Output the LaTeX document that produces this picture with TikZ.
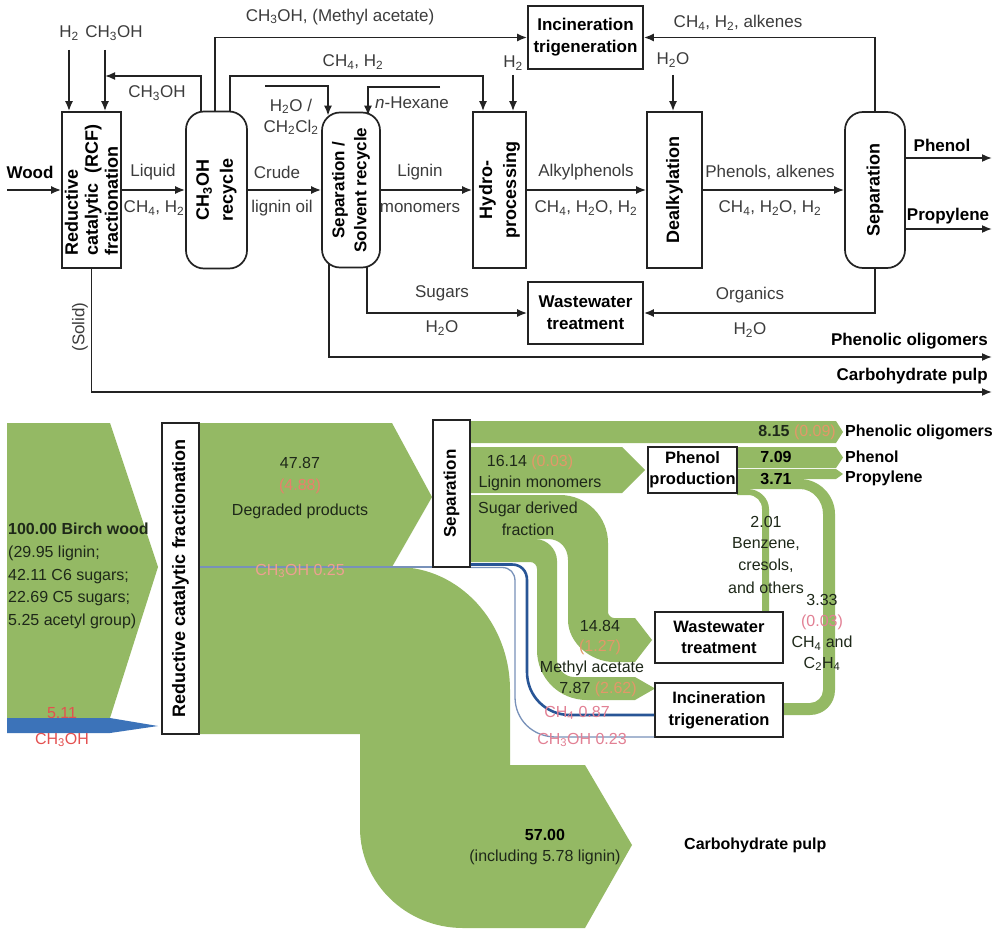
\documentclass[tikz,border=0pt]{standalone}
\usepackage{fontspec}
\setmainfont{Liberation Sans}
\usetikzlibrary{arrows.meta}
\definecolor{gr}{RGB}{148,185,100}
\definecolor{bl}{RGB}{60,115,185}
\definecolor{bldk}{RGB}{40,85,150}
\definecolor{bllt}{RGB}{120,145,185}
\definecolor{sal}{RGB}{232,128,108}
\definecolor{org}{RGB}{226,152,105}
\definecolor{pnk}{RGB}{226,128,148}
\definecolor{rd}{RGB}{228,80,80}
\definecolor{dk}{RGB}{30,40,25}
\definecolor{ln}{RGB}{35,35,35}
\definecolor{tx}{RGB}{60,60,60}
\newcommand{\sbs}[1]{\textsubscript{#1}}
\begin{document}
\begin{tikzpicture}[x=1pt,y=-1pt,
  box/.style={draw=ln, line width=1.7pt, fill=white, inner sep=0pt},
  cyl/.style={box, rounded corners=18pt},
  arr/.style={draw=ln, line width=1.7pt, -{Latex[length=10pt,width=8pt]}},
  lb/.style={font=\fontsize{17}{20}\selectfont, text=tx, inner sep=0pt},
  bb/.style={font=\fontsize{17}{22}\selectfont\bfseries, text=black, inner sep=0pt, align=center},
  sl/.style={font=\fontsize{16}{21}\selectfont, text=dk, inner sep=0pt, align=center},
  sb/.style={font=\fontsize{16}{21}\selectfont\bfseries, text=black, inner sep=0pt, align=center},
]
\useasboundingbox (0,0) rectangle (1000,936);
\fill[white] (0,0) rectangle (1000,936);

% ================= TOP PROCESS DIAGRAM =================
\node[box, minimum width=59pt, minimum height=156pt] (rcf) at (91.5,190) {};
\node[bb, rotate=90, align=left, font=\fontsize{18}{20}\selectfont\bfseries] (rcft) at (rcf) {Reductive\\catalytic\ \ (RCF)\\fractionation};
\node[cyl, minimum width=61pt, minimum height=157pt] (rec) at (216.5,190) {};
\node[bb, rotate=90, font=\fontsize{18}{24}\selectfont\bfseries] (rect) at (rec) {CH\sbs{3}OH\\recycle};
\node[cyl, minimum width=58pt, minimum height=155pt] (sep1) at (351,190) {};
\node[bb, rotate=90] (sep1t) at (sep1) {Separation /\\Solvent recycle};
\node[box, minimum width=53pt, minimum height=156pt] (hyd) at (499.5,190) {};
\node[bb, rotate=90, font=\fontsize{18}{24}\selectfont\bfseries] (hydt) at (hyd) {Hydro-\\processing};
\node[box, minimum width=55pt, minimum height=156pt] (dea) at (674.5,190) {};
\node[bb, rotate=90, font=\fontsize{18}{22}\selectfont\bfseries] (deat) at (dea) {Dealkylation};
\node[cyl, minimum width=60pt, minimum height=156pt] (sep2) at (875,190) {};
\node[bb, rotate=90, font=\fontsize{18}{22}\selectfont\bfseries] (sep2t) at (sep2) {Separation};
\node[box, minimum width=115pt, minimum height=63pt] (inc1) at (585.5,37.5) {};
\node[bb] (inc1t) at (inc1) {Incineration\\trigeneration};
\node[box, minimum width=115pt, minimum height=62pt] (ww1) at (585.5,313) {};
\node[bb] (ww1t) at (ww1) {Wastewater\\treatment};

% wood in
\coordinate (woodin) at (7,190);
\draw[arr] (woodin) -- (rcf.west);
\node[bb] (woodt) at (30,172) {Wood};
% H2 and CH3OH feeds
\coordinate (h2a) at (69,50);
\coordinate (mea) at (105,50);
\draw[arr] (h2a) -- (h2a |- rcf.north);
\draw[arr] (mea) -- (mea |- rcf.north);
\node[lb] (h2at) at (69,33) {H\sbs{2}};
\node[lb] (meat) at (114,33) {CH\sbs{3}OH};
% methanol recycle
\coordinate (r1) at (201,112);
\coordinate (r1t) at (201,76);
\draw[arr] (r1) -- (r1t) -- (r1t -| mea);
\node[lb] (r1l) at (157,93) {CH\sbs{3}OH};
% to incineration
\coordinate (r2) at (215,112);
\draw[arr] (r2) |- (inc1.west);
\node[lb] (r2l) at (340,17) {CH\sbs{3}OH, (Methyl acetate)};
% CH4,H2 to hydroprocessing
\coordinate (r3) at (230,112);
\coordinate (h1) at (483,76);
\draw[arr] (r3) |- (h1) -- (h1 |- hyd.north);
\node[lb] (r3l) at (353,62) {CH\sbs{4}, H\sbs{2}};
% main line
\draw[arr] (rcf.east) -- (rec.west);
\node[lb] (lq1) at (153,172) {Liquid};
\node[lb] (lq2) at (154,208) {CH\sbs{4}, H\sbs{2}};
\draw[arr] (rec.east) -- (sep1.west);
\node[lb] (cr1) at (277,172) {Crude};
\node[lb] (cr2) at (282,208) {lignin oil};
\draw[arr] (sep1.east) -- (hyd.west);
\node[lb] (lm1) at (420,172) {Lignin};
\node[lb] (lm2) at (420,208) {monomers};
\draw[arr] (hyd.east) -- (dea.west);
\node[lb] (ak1) at (586,172) {Alkylphenols};
\node[lb] (ak2) at (586,208) {CH\sbs{4}, H\sbs{2}O, H\sbs{2}};
\draw[arr] (dea.east) -- (sep2.west);
\node[lb] (pa1) at (770,172) {Phenols, alkenes};
\node[lb] (pa2) at (770,208) {CH\sbs{4}, H\sbs{2}O, H\sbs{2}};
% solvent feeds
\coordinate (wc) at (265,86);
\coordinate (wc1) at (328,86);
\draw[arr] (wc) -- (wc1) -- ([yshift=-4pt]wc1 |- sep1.north);
\node[lb, align=center, font=\fontsize{17}{21}\selectfont] (wcl) at (291,117) {H\sbs{2}O /\\CH\sbs{2}Cl\sbs{2}};
\coordinate (hx) at (440,87);
\coordinate (hx1) at (368,87);
\draw[arr] (hx) -- (hx1) -- ([yshift=-4pt]hx1 |- sep1.north);
\node[lb] (hxl) at (412,103) {\textit{n}-Hexane};
% H2 to hydro, H2O to dealkylation
\coordinate (hh) at (513,75);
\draw[arr] (hh) -- (hh |- hyd.north);
\node[lb] (hhl) at (513,63) {H\sbs{2}};
\coordinate (dw) at (673,75);
\draw[arr] (dw) -- (dw |- dea.north);
\node[lb] (dwl) at (673,60) {H\sbs{2}O};
% separation outputs
\draw[arr] (sep2.north) |- (inc1.east);
\node[lb] (ral) at (738,23) {CH\sbs{4}, H\sbs{2}, alkenes};
\coordinate (phe) at (992,158);
\draw[arr] (phe -| sep2.east) -- (phe);
\node[bb] (phel) at (942,145) {Phenol};
\coordinate (pro) at (992,229);
\draw[arr] (pro -| sep2.east) -- (pro);
\node[bb] (prol) at (948,216) {Propylene};
\draw[arr] (sep2.south) |- (ww1.east);
\node[lb] (or1) at (750,295) {Organics};
\node[lb] (or2) at (750,330) {H\sbs{2}O};
\coordinate (sg) at (367,267);
\draw[arr] (sg) |- (ww1.west);
\node[lb] (sg1) at (442,293) {Sugars};
\node[lb] (sg2) at (442,328) {H\sbs{2}O};
\coordinate (ol) at (329,264);
\coordinate (olend) at (992,357);
\draw[arr] (ol) |- (olend);
\node[bb, anchor=east] (oll) at (988,341) {Phenolic oligomers};
\coordinate (cpend) at (992,392);
\draw[arr] (rcf.south) |- (cpend);
\node[bb, anchor=east] (cpl) at (988,376) {Carbohydrate pulp};
\node[lb, rotate=90] (sol) at (80,327) {(Solid)};

% ================= SANKEY =================
% wood input
\fill[gr] (7,423) -- (110,423) -- (158,567) -- (110,718) -- (7,718) -- cycle;
\fill[bl] (7,718) -- (110,718) -- (158,726) -- (110,733) -- (7,733) -- cycle;
% degraded products
\fill[gr] (199,423) -- (392,423) -- (432,497) -- (392,567) -- (199,567) -- cycle;
% carbohydrate pulp
\fill[gr] (199,567) -- (397,567) .. controls (459,567) and (510,622) .. (510,690) -- (510,765) -- (585,765) -- (632,845) -- (585,928) -- (463,928) .. controls (406,928) and (360,883) .. (360,828) -- (360,734) -- (199,734) -- cycle;
% phenolic oligomers
\fill[gr] (470,421) -- (836,421) -- (843,432) -- (836,443) -- (470,443) -- cycle;
% lignin monomers
\fill[gr] (470,447) -- (622,447) -- (645,470) -- (622,493) -- (470,493) -- cycle;
% phenol, propylene
\fill[gr] (737,447) -- (836,447) -- (843,457.5) -- (836,468) -- (737,468) -- cycle;
\fill[gr] (737,469) -- (836,469) -- (843,474) -- (836,479) -- (737,479) -- cycle;
% CH4 and C2H4 to incineration
\fill[gr] (737,479) -- (800,479) .. controls (819,479) and (835,495) .. (835,514) -- (835,690) .. controls (835,704) and (824,715) .. (810,715) -- (783,715) -- (783,703) -- (810,703) .. controls (817,703) and (823,697) .. (823,690) -- (823,514) .. controls (823,501) and (813,489) .. (800,489) -- (737,489) -- cycle;
% benzene, cresols
\fill[gr] (737,489) -- (748,489) .. controls (759,489) and (769,498) .. (769,509) -- (769,612) -- (762,612) -- (762,509) .. controls (762,501) and (756,495) .. (748,495) -- (737,495) -- cycle;
% sugar fraction to wastewater
\fill[gr] (470,495) -- (560,495) .. controls (586.5,495) and (608,516.5) .. (608,543) -- (608,612) .. controls (608,615) and (611,618) .. (614,618) -- (635,618) -- (652,640) -- (635,662) -- (614,662) .. controls (591,662) and (568,643) .. (568,620) -- (568,560) .. controls (568,548) and (560,539) .. (548,539) -- (470,539) -- cycle;
% methyl acetate to incineration
\fill[gr] (470,539) -- (535,539) .. controls (547,539) and (557,549) .. (557,561) -- (557,660) .. controls (557,669) and (565,677) .. (574,677) -- (635,677) -- (655,688.5) -- (635,700) -- (587,700) .. controls (559,700) and (537,678) .. (537,650) -- (537,569) .. controls (537,565) and (534,562) .. (530,562) -- (470,562) -- cycle;

% boxes
\node[box, minimum width=37pt, minimum height=311pt] (rcf2) at (180.5,578.5) {};
\node[sb, rotate=90, font=\fontsize{18}{20}\selectfont\bfseries] (rcf2t) at (rcf2) {Reductive catalytic fractionation};
\node[box, minimum width=37pt, minimum height=147pt] (sepb) at (451.5,493.5) {};
\node[sb, rotate=90, font=\fontsize{17}{20}\selectfont\bfseries] (sepbt) at (sepb) {Separation};
\node[box, minimum width=89pt, minimum height=46pt] (pp) at (692.5,470) {};
\node[sb, font=\fontsize{16.5}{21}\selectfont\bfseries] (ppt) at (pp) {Phenol\\production};
\node[box, minimum width=128pt, minimum height=51pt] (wwb) at (719,637.5) {};
\node[sb, font=\fontsize{16.5}{21}\selectfont\bfseries] (wwbt) at (wwb) {Wastewater\\treatment};
\node[box, minimum width=128pt, minimum height=54pt] (incb) at (719,710) {};
\node[sb, font=\fontsize{16.5}{22}\selectfont\bfseries] (incbt) at (incb) {Incineration\\trigeneration};

% methanol lines
\coordinate (m1a) at (rcf2.east |- 0,567);
\coordinate (m1b) at (sepb.west |- 0,567);
\draw[bllt, line width=1.2pt] (m1a) -- (m1b);
\coordinate (m2a) at (sepb.east |- 0,564.5);
\coordinate (m2b) at (incb.west |- 0,715);
\draw[bldk, line width=2.6pt] (m2a) -- (512,564.5) .. controls (521,564.5) and (527,571) .. (527,580) -- (527,672) .. controls (527,696) and (546,715) .. (570,715) -- (m2b);
\coordinate (m3a) at (sepb.east |- 0,567.5);
\coordinate (m3b) at (incb.west |- 0,737);
\draw[bllt, line width=1.3pt] (m3a) -- (502,567.5) .. controls (510,567.5) and (515,573) .. (515,581) -- (515,697) .. controls (515,720) and (533,737) .. (556,737) -- (m3b);

% sankey texts
\node[sl, align=left, anchor=west, font=\fontsize{16}{22.6}\selectfont] (bw) at (8,576) {\textbf{100.00 Birch wood}\\(29.95 lignin;\\42.11 C6 sugars;\\22.69 C5 sugars;\\5.25 acetyl group)};
\node[sl, text=rd] (m511) at (62,713) {5.11};
\node[sl, text=rd] (m511b) at (62,740) {CH\sbs{3}OH};
\node[sl] (d1) at (300,463) {47.87};
\node[sl, text=sal] (d2) at (300,486) {(4.88)};
\node[sl] (d3) at (300,511) {Degraded products};
\node[sl, text=sal!75] (d4) at (300,571) {CH\sbs{3}OH 0.25};
\node[sl, anchor=east] (o1) at (836,432) {\textbf{8.15} \textcolor{org}{(0.09)}};
\node[sb, anchor=west] (o2) at (845,432) {Phenolic oligomers};
\node[sb] (p1) at (776,457) {7.09};
\node[sb, anchor=west] (p2) at (845,457) {Phenol};
\node[sb] (p3) at (776,479) {3.71};
\node[sb, anchor=west] (p4) at (845,478) {Propylene};
\node[sl] (l1) at (530,462) {16.14 \textcolor{org}{(0.03)}};
\node[sl] (l2) at (540,483) {Lignin monomers};
\node[sl] (s1) at (528,509) {Sugar derived};
\node[sl] (s2) at (528,530) {fraction};
\node[sl] (b1) at (766,522) {2.01};
\node[sl] (b2) at (766,544) {Benzene,};
\node[sl] (b3) at (766,566) {cresols,};
\node[sl] (b4) at (766,588) {and others};
\node[sl] (c1) at (822,600) {3.33};
\node[sl, text=pnk] (c2) at (822,622) {(0.03)};
\node[sl] (c3) at (822,643) {CH\sbs{4} and};
\node[sl] (c4) at (822,664) {C\sbs{2}H\sbs{4}};
\node[sl] (w1) at (600,626) {14.84};
\node[sl, text=org] (w2) at (600,647) {(1.27)};
\node[sl] (ma1) at (592,668) {Methyl acetate};
\node[sl] (ma2) at (598,689) {7.87 \textcolor{org}{(2.62)}};
\node[sl, text=pnk] (g1) at (577,713) {CH\sbs{4} 0.87};
\node[sl, text=pnk] (g2) at (582,740) {CH\sbs{3}OH 0.23};
\node[sb] (cp1) at (545,835) {57.00};
\node[sl] (cp2) at (545,857) {(including 5.78 lignin)};
\node[sb, anchor=west] (cp3) at (684,845) {Carbohydrate pulp};
\end{tikzpicture}
\end{document}
